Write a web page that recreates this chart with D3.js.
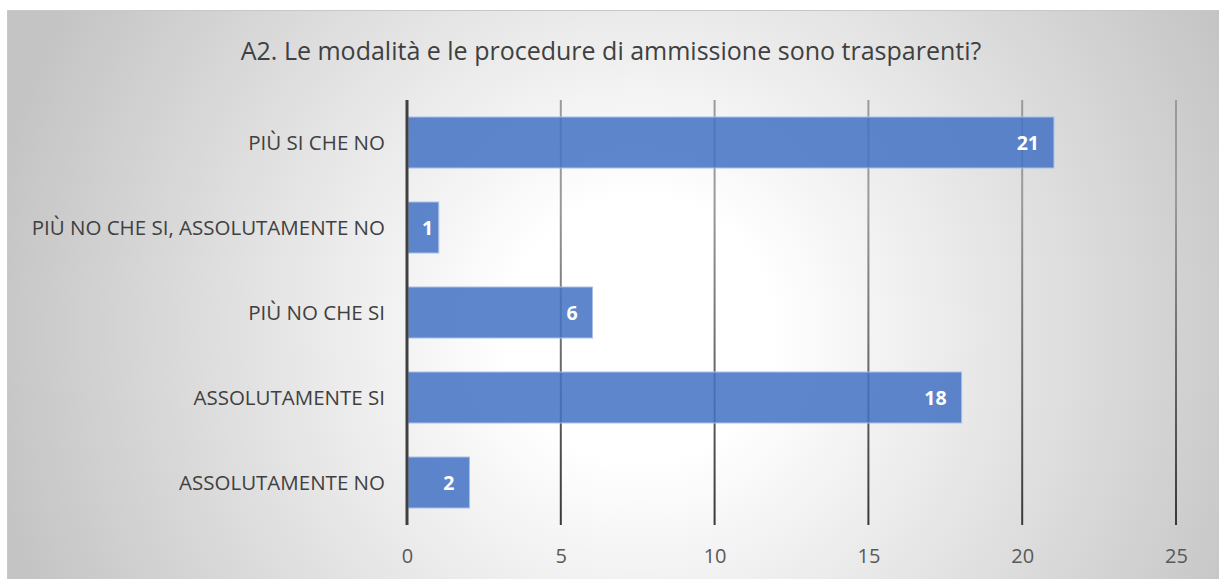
<!DOCTYPE html>
<html>
<head>
<meta charset="utf-8">
<script src="https://cdn.jsdelivr.net/npm/d3@7"></script>
<style>
  body { margin: 0; background: #fff; }
  svg { display: block; font-family: "Open Sans", "Noto Sans", sans-serif; }
</style>
</head>
<body>
<svg id="chart" width="1219" height="579"></svg>
<script>
var title = 'A2. Le modalità e le procedure di ammissione sono trasparenti?';
var categories = ['PIÙ SI CHE NO', 'PIÙ NO CHE SI, ASSOLUTAMENTE NO', 'PIÙ NO CHE SI', 'ASSOLUTAMENTE SI', 'ASSOLUTAMENTE NO'];
var values = [21, 1, 6, 18, 2];
var ticks = [0, 5, 10, 15, 20, 25];

var svg = d3.select('#chart');
var margin = {top: 100, left: 407, right: 43, bottom: 54};
var width = 1219 - margin.left - margin.right;
var height = 579 - margin.top - margin.bottom;

var defs = svg.append('defs');
var bg = defs.append('radialGradient')
    .attr('id', 'bg')
    .attr('gradientUnits', 'userSpaceOnUse')
    .attr('cx', 640).attr('cy', 330).attr('r', 660);
bg.append('stop').attr('offset', '0%').attr('stop-color', '#ffffff');
bg.append('stop').attr('offset', '20%').attr('stop-color', '#ffffff');
bg.append('stop').attr('offset', '100%').attr('stop-color', '#c4c4c4');

var gridGrad = defs.append('linearGradient')
    .attr('id', 'grid')
    .attr('gradientUnits', 'userSpaceOnUse')
    .attr('x1', 0).attr('y1', margin.top).attr('x2', 0).attr('y2', margin.top + height);
gridGrad.append('stop').attr('offset', '0%').attr('stop-color', '#9a9a9a');
gridGrad.append('stop').attr('offset', '100%').attr('stop-color', '#1a1a1a');

svg.append('rect')
  .attr('x', 7.5).attr('y', 10.5)
  .attr('width', 1230).attr('height', 590)
  .attr('fill', 'url(#bg)')
  .attr('stroke', '#c8c8c8');

svg.append('text')
  .attr('x', 611).attr('y', 60)
  .attr('text-anchor', 'middle')
  .style('font-size', '25px')
  .style('fill', '#404040')
  .text(title);

var g = svg.append('g')
  .attr('transform', 'translate(' + margin.left + ',' + margin.top + ')');

var x = d3.scaleLinear().domain([0, 25]).range([0, width]);
var y = d3.scaleBand().domain(categories).range([0, height]).paddingInner(0.4).paddingOuter(0.2);

g.selectAll('.grid')
  .data(ticks.slice(1))
  .enter().append('line')
  .attr('class', 'grid')
  .attr('x1', function (d) { return x(d); })
  .attr('x2', function (d) { return x(d); })
  .attr('y1', 0)
  .attr('y2', height)
  .style('stroke', 'url(#grid)')
  .style('stroke-width', '2px');

g.selectAll('.bar')
  .data(values)
  .enter().append('rect')
  .attr('class', 'bar')
  .attr('x', x(0) + 1)
  .attr('y', function (d, i) { return y(categories[i]); })
  .attr('width', function (d) { return x(d) - x(0); })
  .attr('height', y.bandwidth())
  .style('fill', '#4472c4')
  .style('fill-opacity', 0.86)
  .style('stroke', '#a9c0e8')
  .style('stroke-width', '1px');

g.selectAll('.value')
  .data(values)
  .enter().append('text')
  .attr('class', 'value')
  .attr('y', function (d, i) { return y(categories[i]) + y.bandwidth() / 2 + 7; })
  .attr('text-anchor', 'end')
  .style('font-size', '19.5px')
  .style('font-weight', 'bold')
  .style('fill', '#ffffff')
  .text(function (d) { return d; })
  .attr('x', function (d) {
    var w = this.getComputedTextLength();
    return Math.max(x(d) - 14, x(0) + 15 + w);
  });

g.append('line')
  .attr('x1', x(0)).attr('x2', x(0))
  .attr('y1', 0).attr('y2', height)
  .style('stroke', '#404040')
  .style('stroke-width', '3px');

g.selectAll('.cat')
  .data(categories)
  .enter().append('text')
  .attr('class', 'cat')
  .attr('x', -22)
  .attr('y', function (d) { return y(d) + y.bandwidth() / 2 + 7; })
  .attr('text-anchor', 'end')
  .style('font-size', '20.5px')
  .style('fill', '#404040')
  .text(function (d) { return d; });

g.append('g')
  .attr('transform', 'translate(0,' + height + ')')
  .call(d3.axisBottom(x).tickValues(ticks).tickSize(0).tickPadding(24))
  .call(function (a) { a.select('.domain').remove(); })
  .selectAll('text')
  .style('font-size', '20px')
  .style('font-family', '"Open Sans", "Noto Sans", sans-serif')
  .style('fill', '#595959');
</script>
</body>
</html>
